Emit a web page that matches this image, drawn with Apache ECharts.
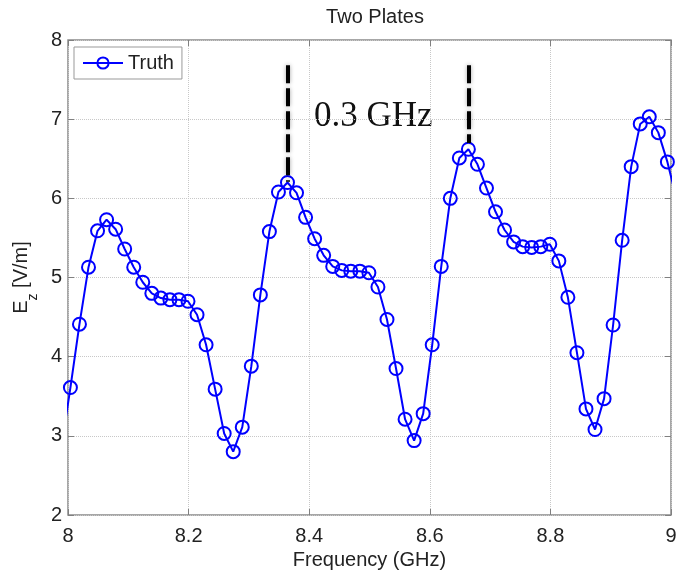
<!DOCTYPE html>
<html>
<head>
<meta charset="utf-8">
<title>Two Plates</title>
<script src="https://cdn.jsdelivr.net/npm/echarts@6/dist/echarts.min.js"></script>
<style>
html, body { margin: 0; padding: 0; background: #fff; }
#chart { width: 676px; height: 573px; }
</style>
</head>
<body>
<div id="chart"></div>
<script>
// frequency samples (GHz), first and last lie just outside the plotted range
var freqs = [7.989, 8.004, 8.019, 8.034, 8.049, 8.064, 8.079, 8.094, 8.109, 8.124,
	8.139, 8.154, 8.169, 8.184, 8.199, 8.214, 8.229, 8.244, 8.259, 8.274,
	8.289, 8.304, 8.319, 8.334, 8.349, 8.364, 8.379, 8.394, 8.409, 8.424,
	8.439, 8.454, 8.469, 8.484, 8.499, 8.514, 8.529, 8.544, 8.559, 8.574,
	8.589, 8.604, 8.619, 8.634, 8.649, 8.664, 8.679, 8.694, 8.709, 8.724,
	8.739, 8.754, 8.769, 8.784, 8.799, 8.814, 8.829, 8.844, 8.859, 8.874,
	8.889, 8.904, 8.919, 8.934, 8.949, 8.964, 8.979, 8.994, 9.009];
// Ez [V/m]
var truth = [2.85, 3.61, 4.41, 5.13, 5.59, 5.73, 5.61, 5.36, 5.13, 4.94,
	4.80, 4.74, 4.72, 4.72, 4.70, 4.53, 4.15, 3.59, 3.03, 2.80,
	3.11, 3.88, 4.78, 5.58, 6.08, 6.20, 6.07, 5.76, 5.49, 5.28,
	5.14, 5.09, 5.08, 5.08, 5.06, 4.88, 4.47, 3.85, 3.21, 2.94,
	3.28, 4.15, 5.14, 6.00, 6.51, 6.62, 6.43, 6.13, 5.83, 5.60,
	5.45, 5.39, 5.38, 5.39, 5.42, 5.21, 4.75, 4.05, 3.34, 3.08,
	3.47, 4.40, 5.47, 6.40, 6.94, 7.03, 6.83, 6.46, 6.00];
// dashed markers showing the 0.3 GHz spacing between peaks
var markerFreqs = [8.364, 8.664];
var markerTop = 7.68;
var markerBottoms = [6.21, 6.70];

var myChart = echarts.init(document.getElementById('chart'));

var points = [];
for (var i = 0; i < freqs.length; i++) {
	points.push([freqs[i], truth[i]]);
}
var markers = [];
for (var j = 0; j < markerFreqs.length; j++) {
	markers.push([{ coord: [markerFreqs[j], markerTop] }, { coord: [markerFreqs[j], markerBottoms[j]] }]);
}

var font = 'Liberation Sans';
var tickStyle = { show: true, inside: true, length: 6, lineStyle: { color: '#808080', width: 1 } };
var gridLines = { show: true, lineStyle: { color: '#c8c8c8', type: 'dotted', width: 1 } };

var option = {
	animation: false,
	backgroundColor: '#fff',
	title: {
		text: 'Two Plates',
		left: 370,
		top: 2,
		textAlign: 'center',
		textStyle: { fontFamily: font, fontSize: 20, fontWeight: 'normal', color: '#222' }
	},
	legend: {
		left: 74,
		top: 47,
		padding: [6, 8, 6, 8],
		borderColor: '#999',
		borderWidth: 1,
		borderRadius: 0,
		backgroundColor: '#fff',
		itemWidth: 40,
		itemHeight: 14,
		textStyle: { fontFamily: font, fontSize: 20, color: '#222' },
		data: ['Truth']
	},
	grid: {
		left: 68,
		right: 5,
		top: 40,
		bottom: 58,
		containLabel: false,
		outerBoundsMode: 'none',
		show: true,
		borderColor: '#8a8a8a',
		borderWidth: 1.5,
		backgroundColor: '#fff'
	},
	graphic: [{
		type: 'text',
		left: 314,
		top: 99,
		style: {
			text: '0.3 GHz',
			font: '35px "Liberation Serif"',
			fill: '#111'
		}
	}],
	xAxis: [{
		type: 'value',
		min: 8,
		max: 9,
		interval: 0.2,
		name: 'Frequency (GHz)',
		nameLocation: 'middle',
		nameGap: 34,
		nameTextStyle: { fontFamily: font, fontSize: 20, color: '#222' },
		axisLine: { show: false },
		axisTick: tickStyle,
		splitLine: gridLines,
		axisLabel: { fontFamily: font, fontSize: 20, color: '#222', margin: 11 }
	}, {
		type: 'value',
		position: 'top',
		min: 8,
		max: 9,
		interval: 0.2,
		axisLine: { show: false },
		axisTick: tickStyle,
		splitLine: { show: false },
		axisLabel: { show: false }
	}],
	yAxis: [{
		type: 'value',
		min: 2,
		max: 8,
		interval: 1,
		name: '{a|E}{b|z}{a| [V/m]}',
		nameLocation: 'middle',
		nameGap: 25,
		nameTextStyle: {
			fontFamily: font,
			color: '#222',
			rich: {
				a: { fontFamily: font, fontSize: 20, color: '#222', lineHeight: 36 },
				b: { fontFamily: font, fontSize: 14, color: '#222', lineHeight: 14, verticalAlign: 'bottom' }
			}
		},
		axisLine: { show: false },
		axisTick: tickStyle,
		splitLine: gridLines,
		axisLabel: { fontFamily: font, fontSize: 20, color: '#222', margin: 6 }
	}, {
		type: 'value',
		position: 'right',
		min: 2,
		max: 8,
		interval: 1,
		axisLine: { show: false },
		axisTick: tickStyle,
		splitLine: { show: false },
		axisLabel: { show: false }
	}],
	series: [{
		name: 'Truth',
		type: 'line',
		xAxisIndex: 0,
		yAxisIndex: 0,
		data: points,
		clip: true,
		symbol: 'circle',
		symbolSize: 13,
		showAllSymbol: true,
		lineStyle: { color: '#0000ff', width: 2 },
		itemStyle: { color: 'rgba(255,255,255,0)', borderColor: '#0000ff', borderWidth: 2 },
		markLine: {
			silent: true,
			symbol: 'none',
			label: { show: false },
			lineStyle: {
				color: '#000',
				width: 4,
				type: [18, 5],
				shadowColor: 'rgba(0,0,0,0.35)',
				shadowBlur: 4
			},
			data: markers
		}
	}]
};
myChart.setOption(option, true);
</script>
</body>
</html>
